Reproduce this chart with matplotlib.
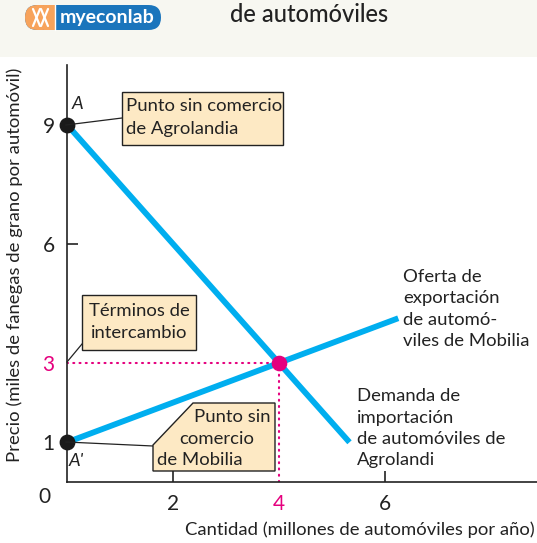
import numpy as np
import matplotlib.pyplot as plt
from matplotlib.patches import Rectangle, Polygon, FancyBboxPatch
from matplotlib.lines import Line2D

plt.rcParams['font.family'] = ['Lato', 'DejaVu Sans']

W, H = 537, 543

# data
demand_x = [0, 5.33]
demand_y = [9, 1]
supply_x = [0, 6.25]
supply_y = [1, 4.125]
eq_x, eq_y = 4, 3
no_trade_x = [0, 0]
no_trade_y = [9, 1]
yticks = [1, 3, 6, 9]
xticks = [2, 4, 6]

BLUE = '#00aeef'
PINK = '#e5007e'
TAN = '#fde9c4'
INK = '#222222'
FS = 13.3


def px(x, y):
    # pixel position (from top-left) -> figure fraction
    return (x / W, 1 - y / H)


def seg(p0, p1, **kw):
    a, b = px(*p0), px(*p1)
    fig.add_artist(Line2D([a[0], b[0]], [a[1], b[1]], transform=fig.transFigure, **kw))


fig = plt.figure(figsize=(W / 100, H / 100), dpi=100)
fig.patch.set_facecolor('white')
TF = fig.transFigure

# header band
fig.add_artist(Rectangle(px(0, 57), 1, 57 / H, transform=TF,
                         facecolor='#f7f7f1', edgecolor='none', zorder=0))

ax = fig.add_axes([67 / W, 1 - 482 / H, (W - 67) / W, (482 - 65) / H])
ax.set_xlim(0, (W - 67) / 53)
ax.set_ylim(0, (482 - 65) / 39.7)
ax.set_facecolor('none')
for s in ['top', 'right']:
    ax.spines[s].set_visible(False)
for s in ['left', 'bottom']:
    ax.spines[s].set_linewidth(1.2)
    ax.spines[s].set_color(INK)

ax.plot(demand_x, demand_y, color=BLUE, lw=4.2, solid_capstyle='butt', zorder=3)
ax.plot(supply_x, supply_y, color=BLUE, lw=4.2, solid_capstyle='butt', zorder=3)
ax.plot([0, eq_x], [eq_y, eq_y], color=PINK, lw=1.5, ls=(0, (0.5, 2.5)),
        dash_capstyle='round', zorder=2)
ax.plot([eq_x, eq_x], [0, eq_y], color=PINK, lw=1.5, ls=(0, (0.5, 2.5)),
        dash_capstyle='round', zorder=2)
ax.scatter([eq_x], [eq_y], s=105, color=PINK, zorder=5, clip_on=False)
ax.scatter(no_trade_x, no_trade_y, s=108, color='#1a1a1a', zorder=5, clip_on=False)

ax.set_yticks(yticks)
ax.set_yticklabels([str(v) for v in yticks], fontsize=15)
ax.set_xticks(xticks)
ax.set_xticklabels([str(v) for v in xticks], fontsize=15)
ax.tick_params(direction='in', length=8, width=1.2, pad=9, colors=INK)
for i, t in enumerate(ax.yaxis.get_major_ticks()):
    if yticks[i] != 6:
        t.tick1line.set_visible(False)
    if yticks[i] == 3:
        t.label1.set_color(PINK)
for i, t in enumerate(ax.xaxis.get_major_ticks()):
    if xticks[i] == 4:
        t.tick1line.set_visible(False)
        t.label1.set_color(PINK)
fig.text(*px(44, 497), '0', fontsize=15, ha='center', va='center', color=INK)

fig.text(*px(535, 530), 'Cantidad (millones de automóviles por año)', fontsize=FS,
         ha='right', va='center', color=INK)
fig.text(*px(15, 265), 'Precio (miles de fanegas de grano por automóvil)', fontsize=FS,
         rotation=90, ha='center', va='center', color=INK)

# point letters
fig.text(*px(77, 104), 'A', fontsize=FS, style='italic', ha='center', va='center', color=INK)
fig.text(*px(76, 461), "A'", fontsize=FS, style='italic', ha='center', va='center', color=INK)

# box: Agrolandia
seg((66, 125), (122, 118), color=INK, lw=0.9, zorder=4)
fig.add_artist(Rectangle(px(122, 145), 161 / W, 53 / H, transform=TF,
                         facecolor=TAN, edgecolor=INK, lw=1, zorder=6))
fig.text(*px(126, 106), 'Punto sin comercio', fontsize=FS, va='center', color=INK, zorder=7)
fig.text(*px(126, 129), 'de Agrolandia', fontsize=FS, va='center', color=INK, zorder=7)

# box: Terminos de intercambio
seg((67, 362), (82, 344), color=INK, lw=0.9, zorder=4)
fig.add_artist(Rectangle(px(82, 350), 114 / W, 55 / H, transform=TF,
                         facecolor=TAN, edgecolor=INK, lw=1, zorder=6))
fig.text(*px(139, 311), 'Términos de', fontsize=FS, ha='center', va='center', color=INK, zorder=7)
fig.text(*px(139, 333), 'intercambio', fontsize=FS, ha='center', va='center', color=INK, zorder=7)

# box: Mobilia (chamfered corner)
seg((66, 442), (153, 446), color=INK, lw=0.9, zorder=4)
corners = [px(153, 471), px(153, 445), px(193, 403), px(275, 403), px(275, 471)]
fig.add_artist(Polygon(corners, closed=True, transform=TF,
                       facecolor=TAN, edgecolor=INK, lw=1, zorder=6))
fig.text(*px(271, 417), 'Punto sin', fontsize=FS, ha='right', va='center', color=INK, zorder=7)
fig.text(*px(217, 439), 'comercio', fontsize=FS, ha='center', va='center', color=INK, zorder=7)
fig.text(*px(157, 460), 'de Mobilia', fontsize=FS, ha='left', va='center', color=INK, zorder=7)

# curve labels
for i, s in enumerate(['Oferta de', 'exportación', 'de automó-', 'viles de Mobilia']):
    fig.text(*px(403, 277 + i * 21.5), s, fontsize=FS, va='center', color=INK)
for i, s in enumerate(['Demanda de', 'importación', 'de automóviles de', 'Agrolandi']):
    fig.text(*px(357, 396 + i * 21.5), s, fontsize=FS, va='center', color=INK)

# header title and logo
fig.text(*px(230, 15), 'de automóviles', fontsize=17, fontweight='medium',
         va='center', color=INK)
fig.add_artist(FancyBboxPatch(px(25, 30), 136 / W, 25 / H, transform=TF,
                              boxstyle='round,pad=0,rounding_size=0.023',
                              facecolor='#1b75bc', edgecolor='none', zorder=3))
fig.add_artist(FancyBboxPatch(px(25, 30), 30 / W, 25 / H, transform=TF,
                              boxstyle='round,pad=0,rounding_size=0.023',
                              facecolor='#f7a35c', edgecolor='none', zorder=4))
fig.add_artist(Rectangle(px(44, 30), 11 / W, 25 / H, transform=TF,
                         facecolor='#f7a35c', edgecolor='none', zorder=4))
seg((55, 5), (55, 30), color='white', lw=1, zorder=5)
fig.text(*px(107, 17), 'myeconlab', fontsize=14, fontweight='bold', color='white',
         ha='center', va='center', zorder=5)
# stylised glyph in the orange cap
for p0, p1 in [((33, 9), (40, 26)), ((40, 9), (33, 26)), ((41, 9), (48, 26)), ((48, 9), (41, 26))]:
    seg(p0, p1, color='white', lw=1.6, zorder=5, solid_capstyle='round')

fig.savefig('out.png', dpi=100)
